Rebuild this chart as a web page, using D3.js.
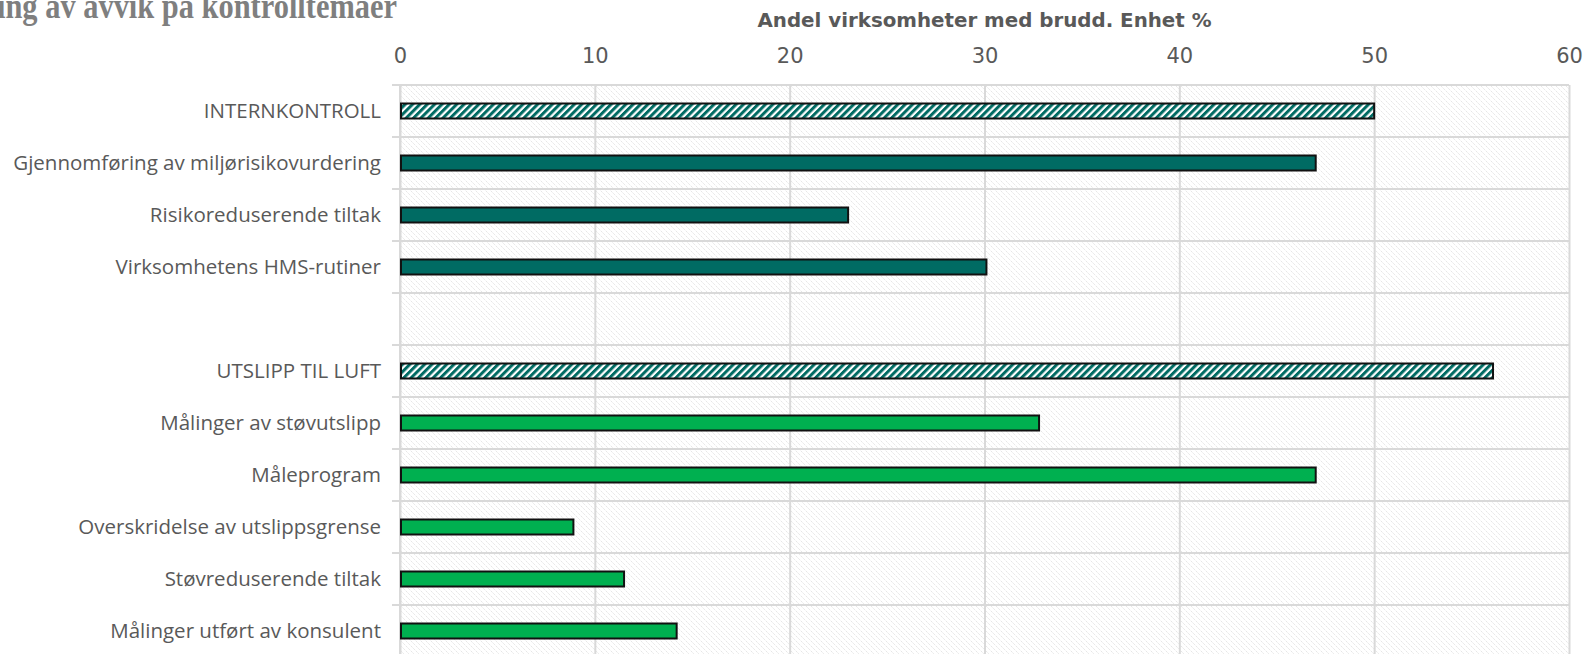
<!DOCTYPE html>
<html>
<head>
<meta charset="utf-8">
<script src="https://cdn.jsdelivr.net/npm/d3@7"></script>
<style>
  body { margin: 0; background: #fff; overflow: hidden; }
  svg { display: block; }
</style>
</head>
<body>
<div id="chart"></div>
<script>
const categories = [
    "INTERNKONTROLL",
    "Gjennomføring av miljørisikovurdering",
    "Risikoreduserende tiltak",
    "Virksomhetens HMS-rutiner",
    "",
    "UTSLIPP TIL LUFT",
    "Målinger av støvutslipp",
    "Måleprogram",
    "Overskridelse av utslippsgrense",
    "Støvreduserende tiltak",
    "Målinger utført av konsulent"
];
const values = [50, 47, 23, 30.1, null, 56.1, 32.8, 47, 8.9, 11.5, 14.2];
const kinds = ["sumIntern", "intern", "intern", "intern", "none", "sumLuft", "luft", "luft", "luft", "luft", "luft"];
const xTicks = [0, 10, 20, 30, 40, 50, 60];

const width = 1587, height = 654;
const plotLeft = 400, plotRight = 1569, plotTop = 85, rowH = 52;

const svg = d3.select("#chart")
    .append("svg")
    .attr("width", width)
    .attr("height", height);

const defs = svg.append("defs");

// light grey backdrop hatch (downward diagonal)
let bgPat = defs.append("pattern")
    .attr("id", "bgHatch")
    .attr("patternUnits", "userSpaceOnUse")
    .attr("width", 5).attr("height", 5);
bgPat.append("path")
    .attr("d", "M-1,-1 L6,6 M-1,4 L1,6 M4,-1 L6,1")
    .attr("stroke", "#dcdcdc")
    .attr("stroke-width", 0.9)
    .attr("stroke-dasharray", "1.5,1");

// teal stripes for the summary bars
let barPat = defs.append("pattern")
    .attr("id", "barHatch")
    .attr("patternUnits", "userSpaceOnUse")
    .attr("width", 5.2).attr("height", 5.2)
    .attr("patternTransform", "rotate(45)");
barPat.append("rect").attr("width", 5.2).attr("height", 5.2).attr("fill", "#fff");
barPat.append("rect").attr("width", 3).attr("height", 5.2).attr("fill", "#006b63");

let x = d3.scaleLinear()
    .domain([0, 60])
    .range([plotLeft, plotRight]);

let y = d3.scaleBand()
    .domain(d3.range(categories.length))
    .range([plotTop, plotTop + rowH * categories.length])
    .padding(0);

const plotH = rowH * categories.length;

// title (cut off at the top-left in the original)
svg.append("text")
    .attr("x", -3)
    .attr("y", 18)
    .attr("font-family", "Liberation Serif, serif")
    .attr("font-weight", "bold")
    .attr("font-size", 35)
    .attr("fill", "#7f7f7f")
    .attr("textLength", 400)
    .attr("lengthAdjust", "spacingAndGlyphs")
    .text("ing av avvik på kontrolltemaer");

svg.append("text")
    .attr("x", (plotLeft + plotRight) / 2)
    .attr("y", 27)
    .attr("text-anchor", "middle")
    .attr("font-family", "DejaVu Sans, sans-serif")
    .attr("font-weight", "bold")
    .attr("font-size", 19)
    .attr("fill", "#595959")
    .attr("textLength", 454)
    .attr("lengthAdjust", "spacingAndGlyphs")
    .text("Andel virksomheter med brudd. Enhet %");

// plot background
svg.append("rect")
    .attr("x", plotLeft).attr("y", plotTop)
    .attr("width", plotRight - plotLeft).attr("height", plotH)
    .attr("fill", "url(#bgHatch)");

// vertical gridlines + tick labels
let xAxis = d3.axisTop(x)
    .tickValues(xTicks)
    .tickSize(-plotH)
    .tickPadding(12)
    .tickFormat(d3.format("d"));

let gx = svg.append("g")
    .attr("transform", "translate(0," + plotTop + ")")
    .call(xAxis);
gx.select(".domain").remove();
gx.selectAll(".tick line")
    .attr("stroke", "#d9d9d9")
    .attr("stroke-width", 2);
gx.selectAll(".tick text")
    .attr("font-family", "DejaVu Sans, sans-serif")
    .attr("font-size", 21)
    .attr("fill", "#595959")
    .attr("y", -22);

// horizontal row boundaries with small outer ticks
let bounds = categories.map((c, i) => y(i)).concat([plotTop + plotH]);
svg.append("g")
    .selectAll("line")
    .data(bounds)
    .enter().append("line")
    .attr("x1", plotLeft - 8)
    .attr("x2", plotRight)
    .attr("y1", d => d)
    .attr("y2", d => d)
    .attr("stroke", "#d9d9d9")
    .attr("stroke-width", 2);

svg.append("line")
    .attr("x1", plotLeft).attr("x2", plotLeft)
    .attr("y1", plotTop).attr("y2", plotTop + plotH)
    .attr("stroke", "#d9d9d9")
    .attr("stroke-width", 2);

// bars
const barH = 15;
function fillFor(k) {
    if (k === "sumIntern" || k === "sumLuft") return "url(#barHatch)";
    if (k === "intern") return "#006b63";
    return "#00b050";
}

svg.append("g")
    .selectAll("rect")
    .data(values.map((v, i) => ({v: v, i: i, k: kinds[i]})).filter(d => d.v !== null))
    .enter().append("rect")
    .attr("x", x(0) + 1)
    .attr("y", d => y(d.i) + y.bandwidth() / 2 - barH / 2)
    .attr("width", d => x(d.v) - x(0) - 1)
    .attr("height", barH)
    .attr("fill", d => fillFor(d.k))
    .attr("stroke", "#111")
    .attr("stroke-width", 2);

// category labels
svg.append("g")
    .selectAll("text")
    .data(categories)
    .enter().append("text")
    .attr("x", 381)
    .attr("y", (d, i) => y(i) + y.bandwidth() / 2)
    .attr("dy", "0.35em")
    .attr("text-anchor", "end")
    .attr("font-family", "Open Sans, sans-serif")
    .attr("font-size", 20.5)
    .attr("fill", "#595959")
    .text(d => d);
</script>
</body>
</html>
